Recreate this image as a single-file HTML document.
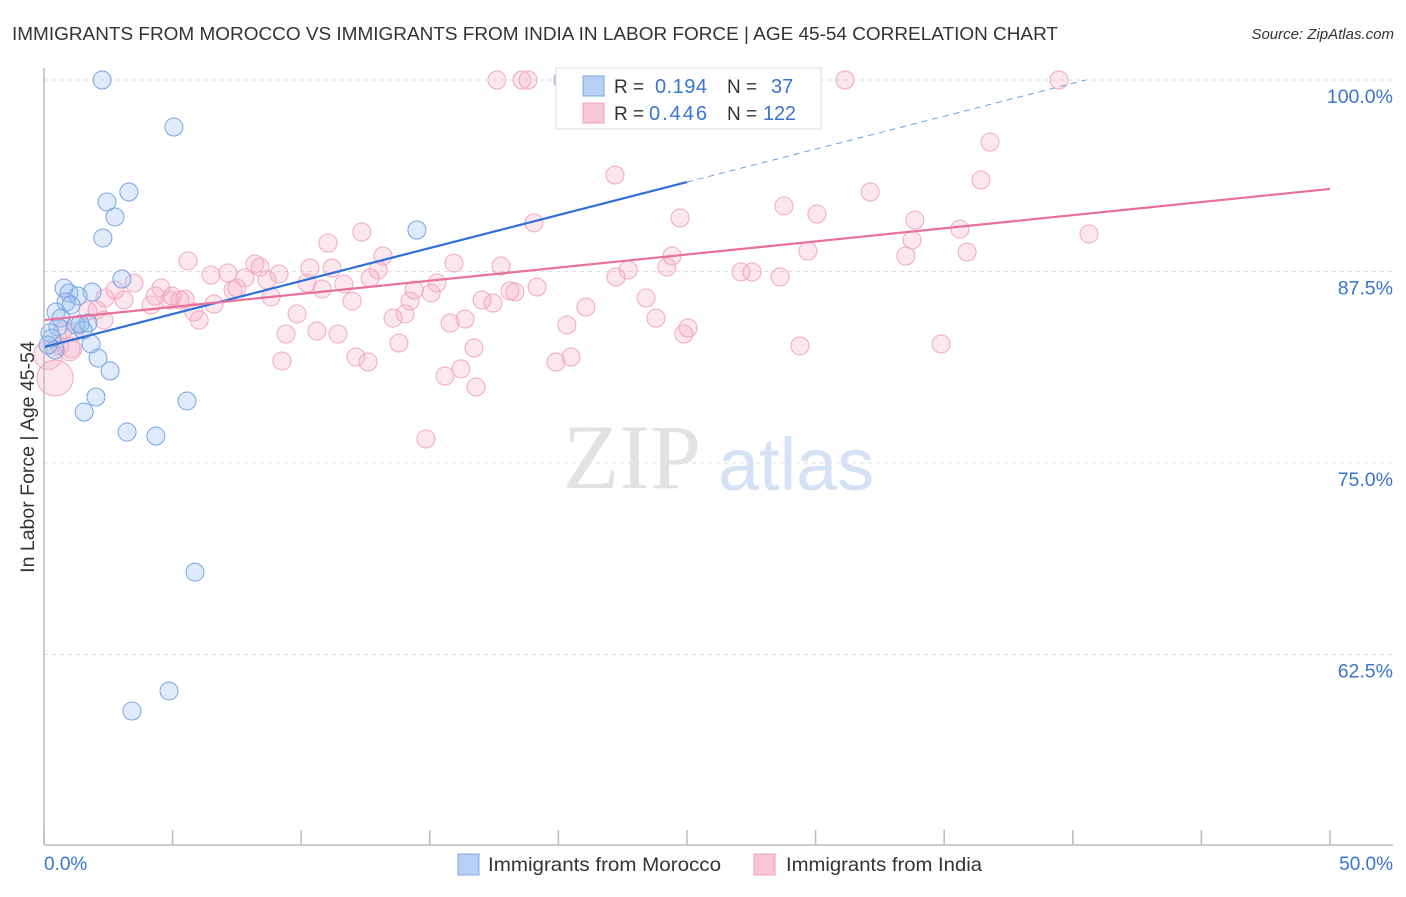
<!DOCTYPE html>
<html><head><meta charset="utf-8">
<style>
body{margin:0;background:#fff;font-family:"Liberation Sans",sans-serif;}
svg text{font-family:"Liberation Sans",sans-serif;}
</style></head>
<body>
<svg id="chart" width="1406" height="892" viewBox="0 0 1406 892">
<text x="12" y="40" font-size="18.5" fill="#333" textLength="1046" lengthAdjust="spacingAndGlyphs">IMMIGRANTS FROM MOROCCO VS IMMIGRANTS FROM INDIA IN LABOR FORCE | AGE 45-54 CORRELATION CHART</text>
<text x="1394" y="39" font-size="15" font-style="italic" fill="#333" text-anchor="end">Source: ZipAtlas.com</text>
<g id="grid"></g>
<text x="632" y="488" font-size="92" fill="#e2e2e2" text-anchor="middle" style="font-family:'Liberation Serif',serif">ZIP</text>
<text x="718" y="490" font-size="74" fill="#d5e2f5">atlas</text>
<g id="pts"></g>
<g id="lines"></g>
<line x1="44" y1="68" x2="44" y2="845" stroke="#bbb" stroke-width="1.5"/>
<line x1="44" y1="845" x2="1393" y2="845" stroke="#bbb" stroke-width="1.5"/>
<g id="axes"></g>
<text transform="translate(34,457) rotate(-90)" font-size="19.5" fill="#333" text-anchor="middle">In Labor Force | Age 45-54</text>
<g>
<rect x="556" y="68" width="265" height="61" fill="#fff" stroke="#ddd"/>
<rect x="583" y="76" width="21" height="20" fill="#b8d0f4" stroke="#7ea8e6"/>
<rect x="583" y="103" width="21" height="20" fill="#f9c6d6" stroke="#eea0b8"/>
<text x="614" y="93" font-size="19" fill="#333">R =</text>
<text x="655" y="93" font-size="20" fill="#3a74d0" textLength="52">0.194</text>
<text x="727" y="93" font-size="19" fill="#333">N =</text>
<text x="771" y="93" font-size="20" fill="#3a74d0">37</text>
<text x="614" y="120" font-size="19" fill="#333">R =</text>
<text x="649" y="120" font-size="20" fill="#3a74d0" textLength="58">0.446</text>
<text x="727" y="120" font-size="19" fill="#333">N =</text>
<text x="763" y="120" font-size="20" fill="#3a74d0" textLength="33">122</text>
</g>
<g>
<rect x="458" y="854" width="21" height="21" fill="#b8d0f4" stroke="#7ea8e6"/>
<text x="488" y="871" font-size="19.5" fill="#333" textLength="233" lengthAdjust="spacingAndGlyphs">Immigrants from Morocco</text>
<rect x="754" y="854" width="21" height="21" fill="#f9c6d6" stroke="#eea0b8"/>
<text x="786" y="871" font-size="19.5" fill="#333" textLength="196" lengthAdjust="spacingAndGlyphs">Immigrants from India</text>
</g>
</svg>
<script>
const yTicks=[100,87.5,75,62.5];
const yTickLabels=["100.0%","87.5%","75.0%","62.5%"];
const xTicks=[0,5,10,15,20,25,30,35,40,45,50];
const xEndLabels=["0.0%","50.0%"];
const moroccoX=[2.26,5.05,3.30,2.45,2.76,2.29,3.03,14.50,20.18,0.78,0.97,1.87,1.32,0.86,1.05,0.47,0.66,1.71,1.24,0.54,1.52,0.23,0.31,1.83,0.43,2.10,2.57,2.02,1.56,5.56,3.23,4.35,5.87,4.86,3.42,0.16,1.40];
const moroccoY=[100,96.93,92.69,92.04,91.06,89.69,87.01,90.21,100,86.42,86.10,86.16,85.90,85.51,85.31,84.86,84.46,84.14,84.01,83.88,83.68,83.49,83.16,82.77,82.38,81.85,81.01,79.31,78.33,79.05,77.02,76.76,67.88,60.12,58.81,82.70,84.07];
const indiaX=[17.61,18.58,18.82,31.14,39.46,36.78,22.20,36.43,32.12,28.77,30.05,24.73,33.86,19.05,35.61,12.36,40.63,33.75,11.04,29.70,35.89,13.18,24.42,33.51,5.60,15.94,8.20,8.40,17.77,12.99,24.22,22.71,10.34,11.20,7.15,6.49,9.14,27.10,27.53,22.24,28.62,7.81,12.68,8.67,15.28,10.23,3.50,11.66,7.50,10.81,14.39,15.05,19.17,18.12,18.31,2.76,4.55,7.35,4.32,4.98,23.41,8.83,2.37,3.11,14.23,4.90,5.48,11.98,17.03,4.16,6.61,21.07,17.46,5.83,9.84,2.06,1.71,14.04,13.57,16.37,6.03,15.79,23.79,20.33,25.04,9.41,10.61,11.43,24.88,0.74,1.17,0.62,1.05,13.80,16.72,29.39,34.88,9.25,12.13,12.60,19.91,20.49,16.21,15.59,16.80,14.85,2.33,5.29,0.43,0.16,1.00];
const indiaY=[100,100,100,100,100,95.95,93.80,93.47,92.69,91.78,91.25,90.99,90.86,90.67,90.27,90.08,89.95,89.56,89.36,88.84,88.77,88.51,88.51,88.51,88.19,88.05,87.99,87.79,87.86,87.60,87.79,87.60,87.73,87.73,87.40,87.27,87.34,87.47,87.47,87.14,87.14,87.08,87.08,86.95,86.75,86.75,86.75,86.68,86.42,86.36,86.29,86.10,86.49,86.23,86.16,86.29,86.42,86.29,85.90,85.90,85.77,85.84,85.77,85.64,85.57,85.64,85.70,85.57,85.64,85.31,85.38,85.18,85.44,84.86,84.73,84.99,84.92,84.73,84.46,84.40,84.33,84.14,84.46,84.01,83.81,83.42,83.62,83.42,83.42,83.68,83.55,82.64,82.44,82.83,82.51,82.64,82.77,81.66,81.92,81.59,81.59,81.92,81.14,80.68,79.96,76.57,84.33,85.64,80.55,82.05,82.44];
const indiaSize=[1,1,1,1,1,1,1,1,1,1,1,1,1,1,1,1,1,1,1,1,1,1,1,1,1,1,1,1,1,1,1,1,1,1,1,1,1,1,1,1,1,1,1,1,1,1,1,1,1,1,1,1,1,1,1,1,1,1,1,1,1,1,1,1,1,1,1,1,1,1,1,1,1,1,1,1,1,1,1,1,1,1,1,1,1,1,1,1,1,1,1,1,1,1,1,1,1,1,1,1,1,1,1,1,1,1,1,1,2.0,1.6,1.3];
const moroccoTrendX=[0,25,40.5];
const moroccoTrendY=[82.57,93.34,100];
const indiaTrendX=[0,50];
const indiaTrendY=[84.33,92.89];

const NS="http://www.w3.org/2000/svg";
const sx=v=>44+v*25.72;
const sy=v=>80+(100-v)*15.32;
function mk(tag,attrs,parent){const e=document.createElementNS(NS,tag);for(const k in attrs)e.setAttribute(k,attrs[k]);parent.appendChild(e);return e;}
const grid=document.getElementById('grid'),axes=document.getElementById('axes'),pts=document.getElementById('pts'),lines=document.getElementById('lines');
yTicks.forEach((t,i)=>{
  const g=mk('line',{x1:44,x2:1393,y1:sy(t),y2:sy(t),stroke:'#ddd','stroke-dasharray':'4,4'},grid);
  
  
  const l=mk('text',{x:1393,y:sy(t)+23,'font-size':19.5,fill:'#3a74d0','text-anchor':'end'},axes);
  l.textContent=yTickLabels[i];
  
  
});
xTicks.forEach(t=>{
  const k=mk('line',{x1:sx(t),x2:sx(t),y1:830,y2:845,stroke:'#bbb','stroke-width':1.5},axes);
  
  
});
const xl0=mk('text',{x:44,y:870,'font-size':19,fill:'#3a74d0'},axes);xl0.textContent=xEndLabels[0];


const xl1=mk('text',{x:1393,y:870,'font-size':19,fill:'#3a74d0','text-anchor':'end'},axes);xl1.textContent=xEndLabels[1];


indiaX.forEach((x,i)=>{
  const c=mk('circle',{cx:sx(x),cy:sy(indiaY[i]),r:9*indiaSize[i],fill:'rgba(246,170,196,0.28)',stroke:'#f0a8c0','stroke-width':1},pts);
  
  
});
moroccoX.forEach((x,i)=>{
  const c=mk('circle',{cx:sx(x),cy:sy(moroccoY[i]),r:9,fill:'rgba(150,190,240,0.3)',stroke:'#78a4e2','stroke-width':1},pts);
  
  
});
const bl=mk('line',{x1:sx(moroccoTrendX[0]),y1:sy(moroccoTrendY[0]),x2:sx(moroccoTrendX[1]),y2:sy(moroccoTrendY[1]),stroke:'#2f6fd8','stroke-width':2.2},lines);


const bd=mk('line',{x1:sx(moroccoTrendX[1]),y1:sy(moroccoTrendY[1]),x2:sx(moroccoTrendX[2]),y2:sy(moroccoTrendY[2]),stroke:'#6f9fe0','stroke-width':1,'stroke-dasharray':'6,5'},lines);


const pl=mk('line',{x1:sx(indiaTrendX[0]),y1:sy(indiaTrendY[0]),x2:sx(indiaTrendX[1]),y2:sy(indiaTrendY[1]),stroke:'#e8709a','stroke-width':2.2},lines);


</script>
</body></html>
